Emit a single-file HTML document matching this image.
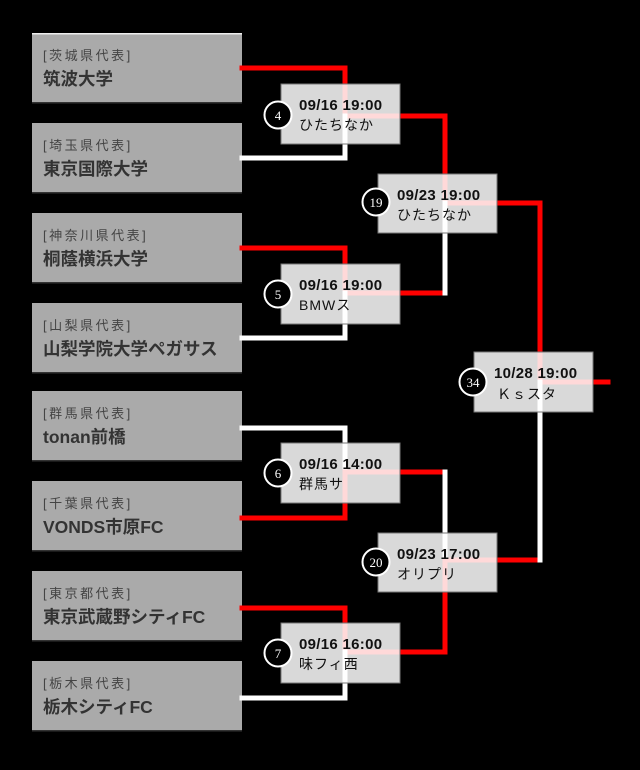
<!DOCTYPE html>
<html><head><meta charset="utf-8"><style>
html,body{margin:0;padding:0;background:#000;}
svg{display:block;}
.lb{font-family:"Liberation Sans","Noto Sans CJK JP",sans-serif;font-size:13px;fill:#444;letter-spacing:2.5px;}
.nm{font-family:"Liberation Sans","Noto Sans CJK JP",sans-serif;font-size:17.5px;font-weight:bold;fill:#333;}
.dt{font-family:"Liberation Sans","Noto Sans CJK JP",sans-serif;font-size:15px;font-weight:bold;fill:#111;letter-spacing:0.3px;}
.vn{font-family:"Liberation Sans","Noto Sans CJK JP",sans-serif;font-size:14px;fill:#111;letter-spacing:1px;}
.cn{font-family:"Liberation Serif","Noto Sans CJK JP",serif;font-size:13px;fill:#fff;text-anchor:middle;}
</style></head><body>
<svg width="640" height="770" viewBox="0 0 640 770" xmlns="http://www.w3.org/2000/svg">
<rect width="640" height="770" fill="#000"/>
<g>
<rect x="32" y="33" width="210" height="70" fill="#aaa"/><rect x="32" y="33" width="210" height="1.5" fill="#eee"/><rect x="32" y="102" width="210" height="1.5" fill="#333"/>
<rect x="32" y="123" width="210" height="70" fill="#aaa"/><rect x="32" y="192" width="210" height="1.5" fill="#333"/>
<rect x="32" y="213" width="210" height="70" fill="#aaa"/><rect x="32" y="282" width="210" height="1.5" fill="#333"/>
<rect x="32" y="303" width="210" height="70" fill="#aaa"/><rect x="32" y="372" width="210" height="1.5" fill="#333"/>
<rect x="32" y="391" width="210" height="70" fill="#aaa"/><rect x="32" y="460" width="210" height="1.5" fill="#333"/>
<rect x="32" y="481" width="210" height="70" fill="#aaa"/><rect x="32" y="550" width="210" height="1.5" fill="#333"/>
<rect x="32" y="571" width="210" height="70" fill="#aaa"/><rect x="32" y="640" width="210" height="1.5" fill="#333"/>
<rect x="32" y="661" width="210" height="70" fill="#aaa"/><rect x="32" y="730" width="210" height="1.5" fill="#333"/>
</g>
<text class="lb" x="43" y="60">[茨城県代表]</text><text class="nm" x="43" y="85">筑波大学</text>
<text class="lb" x="43" y="150">[埼玉県代表]</text><text class="nm" x="43" y="175">東京国際大学</text>
<text class="lb" x="43" y="240">[神奈川県代表]</text><text class="nm" x="43" y="265">桐蔭横浜大学</text>
<text class="lb" x="43" y="330">[山梨県代表]</text><text class="nm" x="43" y="355">山梨学院大学ペガサス</text>
<text class="lb" x="43" y="418">[群馬県代表]</text><text class="nm" x="43" y="443">tonan前橋</text>
<text class="lb" x="43" y="508">[千葉県代表]</text><text class="nm" x="43" y="533">VONDS市原FC</text>
<text class="lb" x="43" y="598">[東京都代表]</text><text class="nm" x="43" y="623">東京武蔵野シティFC</text>
<text class="lb" x="43" y="688">[栃木県代表]</text><text class="nm" x="43" y="713">栃木シティFC</text>
<g fill="none" stroke-width="5" stroke-linecap="square">
<polyline points="242,68 345,68 345,116 445,116 445,203 540,203 540,382 608,382" stroke="#f00"/>
<polyline points="242,158 345,158 345,116" stroke="#fff"/>
<polyline points="242,248 345,248 345,293 445,293" stroke="#f00"/>
<polyline points="242,338 345,338 345,293" stroke="#fff"/>
<polyline points="445,293 445,203" stroke="#fff"/>
<polyline points="242,428 345,428 345,472" stroke="#fff"/>
<polyline points="242,518 345,518 345,472 445,472" stroke="#f00"/>
<polyline points="445,472 445,560" stroke="#fff"/>
<polyline points="242,608 345,608 345,652 445,652 445,560 540,560" stroke="#f00"/>
<polyline points="242,698 345,698 345,652" stroke="#fff"/>
<polyline points="540,382 540,560" stroke="#fff"/>
</g>
<g fill="rgba(255,255,255,0.85)" stroke="#777" stroke-width="1">
<rect x="281" y="84" width="119" height="60"/>
<rect x="281" y="264" width="119" height="60"/>
<rect x="281" y="443" width="119" height="60"/>
<rect x="281" y="623" width="119" height="60"/>
<rect x="378" y="174" width="119" height="59"/>
<rect x="378" y="533" width="119" height="59"/>
<rect x="474" y="352" width="119" height="60"/>
</g>
<g fill="#000" stroke="#fff" stroke-width="2">
<circle cx="278" cy="115" r="13.5"/><circle cx="278" cy="294" r="13.5"/><circle cx="278" cy="473" r="13.5"/><circle cx="278" cy="653" r="13.5"/>
<circle cx="376" cy="202" r="13.5"/><circle cx="376" cy="562" r="13.5"/><circle cx="473" cy="382" r="13.5"/>
</g>
<text class="cn" x="278" y="120">4</text><text class="cn" x="278" y="299">5</text><text class="cn" x="278" y="478">6</text><text class="cn" x="278" y="658">7</text>
<text class="cn" x="376" y="207">19</text><text class="cn" x="376" y="567">20</text><text class="cn" x="473" y="387">34</text>
<text class="dt" x="299" y="110">09/16 19:00</text><text class="vn" x="299" y="130">ひたちなか</text>
<text class="dt" x="299" y="290">09/16 19:00</text><text class="vn" x="299" y="310">BMWス</text>
<text class="dt" x="299" y="469">09/16 14:00</text><text class="vn" x="299" y="489">群馬サ</text>
<text class="dt" x="299" y="649">09/16 16:00</text><text class="vn" x="299" y="669">味フィ西</text>
<text class="dt" x="397" y="200">09/23 19:00</text><text class="vn" x="397" y="220">ひたちなか</text>
<text class="dt" x="397" y="559">09/23 17:00</text><text class="vn" x="397" y="579">オリプリ</text>
<text class="dt" x="494" y="378">10/28 19:00</text><text class="vn" x="497" y="399">Ｋｓスタ</text>
</svg>
</body></html>
